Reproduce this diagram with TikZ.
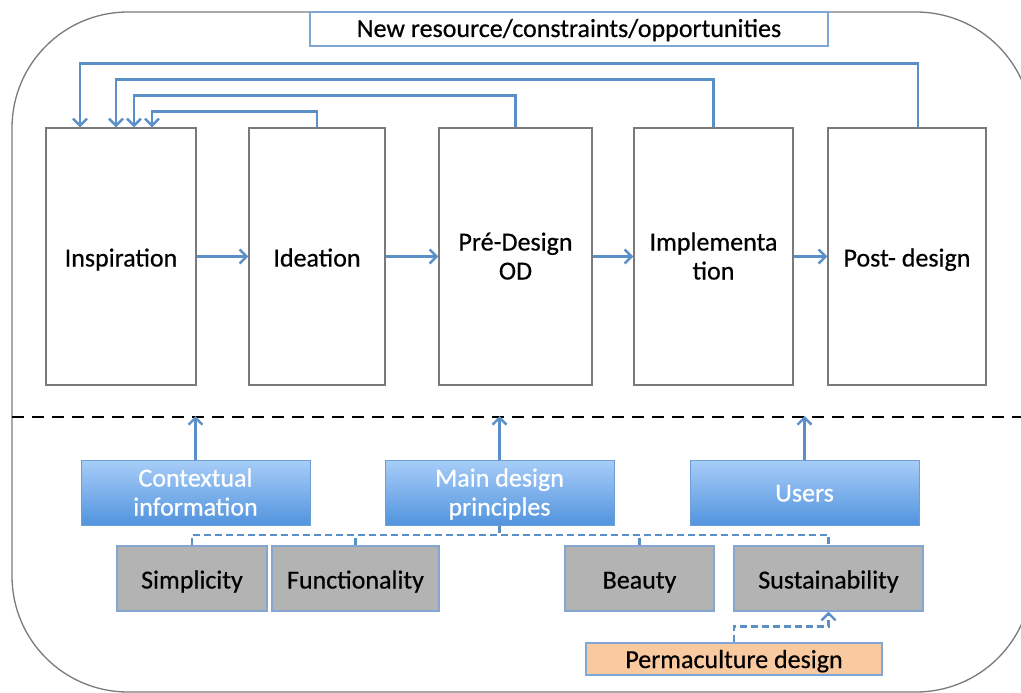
\documentclass[tikz,border=0pt]{standalone}
\usepackage{fontspec}
\setmainfont{Carlito}[FakeBold=0.5]
\usetikzlibrary{arrows.meta}
\definecolor{lineblue}{HTML}{5B8FC8}
\definecolor{boxborder}{HTML}{7A7A7A}
\definecolor{btop}{HTML}{A8CDF8}
\definecolor{bbot}{HTML}{5294DE}
\definecolor{bedge}{HTML}{6C9ED8}
\definecolor{grayfill}{HTML}{B3B3B3}
\definecolor{grayedge}{HTML}{86A6D2}
\definecolor{permfill}{HTML}{F9C9A0}
\definecolor{permedge}{HTML}{7EA6D6}
\tikzset{
  txt/.style={font=\fontsize{26}{29}\selectfont},
  oneline/.style={text height=26pt, text depth=6pt},
  twoline/.style={text height=52pt, text depth=6pt},
  stage/.style={txt, draw=boxborder, line width=1.3pt, fill=white, minimum height=257pt, inner sep=0pt, align=center},
  bluebox/.style={txt, draw=bedge, line width=1pt, top color=btop, bottom color=bbot, text=white, minimum width=229pt, minimum height=65pt, inner sep=0pt, align=center},
  graybox/.style={txt, oneline, draw=grayedge, line width=1.2pt, fill=grayfill, minimum height=65pt, inner sep=0pt, align=center},
  flow/.style={draw=lineblue, line width=2.6pt, -{Straight Barb[length=7pt,width=14pt,line width=2.4pt]}},
  dbus/.style={draw=lineblue, line width=2.4pt, dash pattern=on 7pt off 4pt},
  dflow/.style={dbus, -{Straight Barb[length=7pt,width=14pt,line width=2.4pt]}},
}
\begin{document}
\begin{tikzpicture}[x=1pt,y=-1pt]
\clip (0,0) rectangle (1021,693);
\fill[white] (0,0) rectangle (1021,693);
% outer frame
\draw[boxborder, line width=1.3pt, rounded corners=116pt] (12,12) rectangle (1032,692);
% top label
\node[txt, text height=22pt, text depth=6pt, draw=permedge, line width=1.2pt, fill=white, minimum width=518pt, minimum height=34pt, inner sep=0pt] (newres) at (569,29) {New resource/constraints/opportunities};
% stages
\node[stage, oneline, minimum width=150pt] (insp) at (121,256.5) {Inspiration};
\node[stage, oneline, minimum width=136pt] (idea) at (317,256.5) {Ideation};
\node[stage, twoline, minimum width=153pt] (pre) at (515.5,256.5) {Pré-Design\\OD};
\node[stage, twoline, minimum width=159pt] (impl) at (713.5,256.5) {Implementa\\tion};
\node[stage, oneline, minimum width=158pt] (post) at (907,256.5) {Post- design};
% forward arrows
\draw[flow] (insp.east) -- (idea.west);
\draw[flow] (idea.east) -- (pre.west);
\draw[flow] (pre.east) -- (impl.west);
\draw[flow] (impl.east) -- (post.west);
% feedback arrows
\draw[flow] ([xshift=11pt]post.north) -- ++(0,-64) -| ([xshift=-41pt]insp.north);
\draw[flow] (impl.north) -- ++(0,-48) -| ([xshift=-5pt]insp.north);
\draw[flow] (pre.north) -- ++(0,-32) -| ([xshift=13pt]insp.north);
\draw[flow] (idea.north) -- ++(0,-16) -| ([xshift=31pt]insp.north);
% dashed divider
\draw[black, line width=2.2pt, dash pattern=on 12pt off 8pt] (12,417) -- (1021,417);
\coordinate (dl) at (0,416);
% blue boxes
\node[bluebox, twoline] (ctx) at (195.5,492.5) {Contextual\\information};
\node[bluebox, twoline] (main) at (499.5,492.5) {Main design\\principles};
\node[bluebox, text height=24pt, text depth=6pt] (users) at (804.5,492.5) {Users};
\draw[flow] (ctx.north) -- (ctx.north |- dl);
\draw[flow] (main.north) -- (main.north |- dl);
\draw[flow] (users.north) -- (users.north |- dl);
% gray boxes
\node[graybox, minimum width=150pt] (simp) at (192,578.5) {Simplicity};
\node[graybox, minimum width=167pt] (func) at (355.5,578.5) {Functionality};
\node[graybox, minimum width=149pt] (beauty) at (639.5,578.5) {Beauty};
\node[graybox, minimum width=189pt] (sust) at (828.5,578.5) {Sustainability};
\coordinate (bus) at (0,535);
\draw[dbus] (simp.north) -- (simp.north |- bus) -- (sust.north |- bus) -- (sust.north);
\draw[dbus] (func.north) -- (func.north |- bus);
\draw[dbus] (beauty.north) -- (beauty.north |- bus);
\draw[dbus] (main.south) -- (main.south |- bus);
% permaculture
\node[txt, text height=24pt, text depth=6pt, draw=permedge, line width=1.2pt, fill=permfill, minimum width=296pt, minimum height=32pt, inner sep=0pt] (perm) at (734,659) {Permaculture design};
\draw[dflow] (perm.north) -- ++(0,-16) -| (sust.south);
\end{tikzpicture}
\end{document}
